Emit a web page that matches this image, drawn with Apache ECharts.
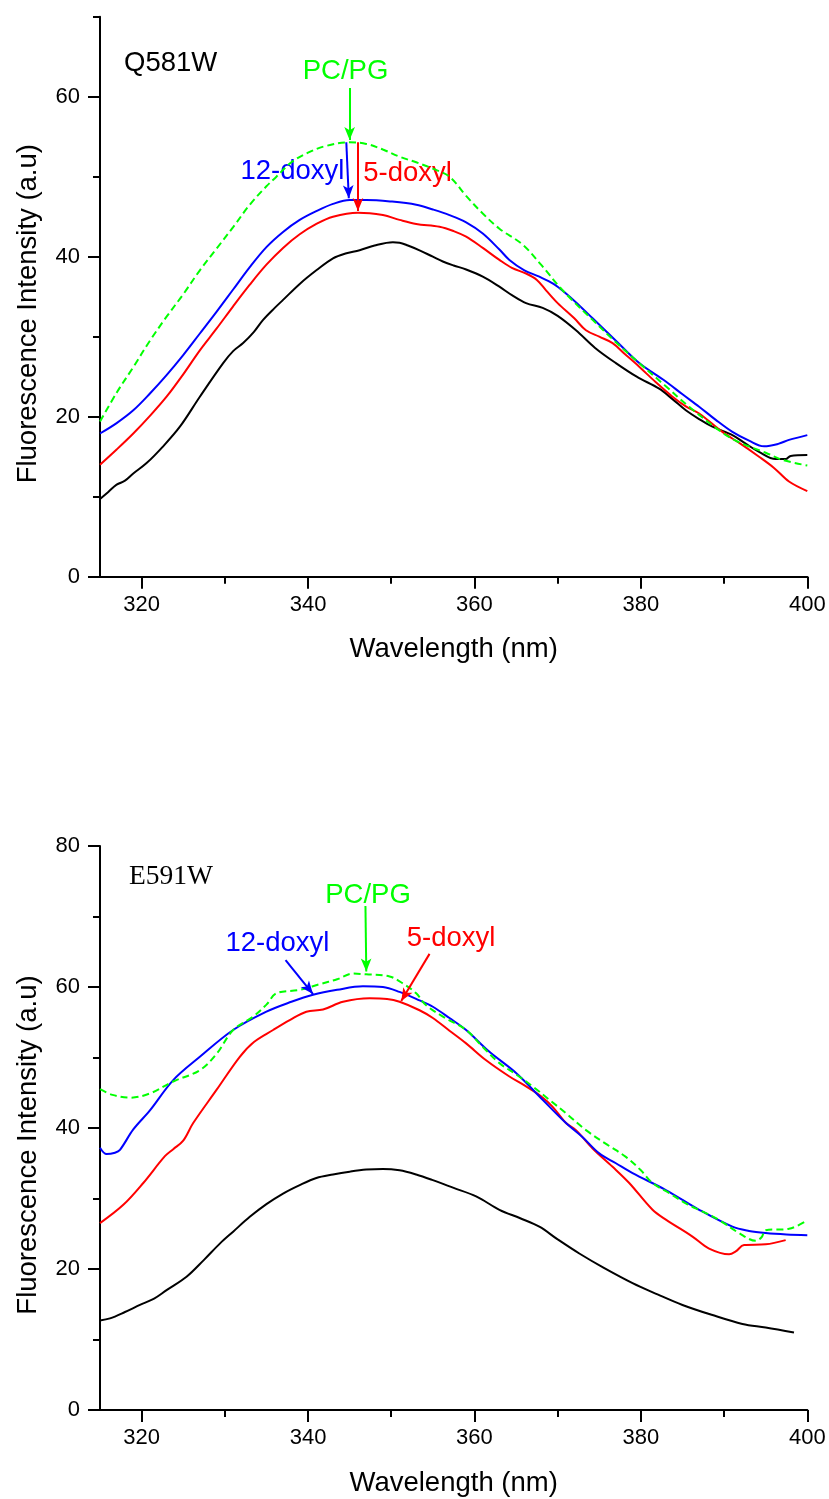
<!DOCTYPE html>
<html>
<head>
<meta charset="utf-8">
<script src="https://cdn.jsdelivr.net/npm/echarts@6/dist/echarts.min.js"></script>
<style>
html,body{margin:0;padding:0;background:#fff;}
#chart{width:829px;height:1499px;}
</style>
</head>
<body>
<div id="chart"></div>
<script>
// ---------- data (wavelength nm, intensity a.u.) ----------
const xMajorTicks = [320, 340, 360, 380, 400];
const xMinorTicks = [330, 350, 370, 390];
const yMajorTop = [0, 20, 40, 60];
const yMinorTop = [10, 30, 50, 70];
const yMajorBottom = [0, 20, 40, 60, 80];
const yMinorBottom = [10, 30, 50, 70];

// Panel 1: Q581W
const q581_pcpg = [[315,19.4],[317,23],[319,26.2],[321,29.5],[323,32.5],[325,35.3],[327,38.3],[329,41],[331,43.7],[333,46.5],[335,48.8],[336.2,50],[338,51.8],[340,53],[342,53.8],[345,54.3],[347,54.1],[349,53.4],[351,52.5],[353,51.8],[355,51],[357,50],[359,47.6],[361,45.4],[363,43.5],[365.8,41.5],[368,39],[370.2,36.25],[372,34.3],[374.2,32.1],[377,29.3],[379.8,26.7],[383,23.8],[385.8,21.25],[389.8,18],[392,16.7],[395,15.5],[397,14.6],[400,13.9]];
const q581_12doxyl = [[315,17.9],[317,19.2],[319,20.8],[321,22.9],[323,25.2],[325,27.7],[327,30.4],[329,33.1],[331,35.9],[333,38.7],[335,41.2],[337,43.1],[339,44.6],[341,45.7],[343,46.6],[345,47.1],[347,47.1],[350,46.9],[353,46.5],[355,45.9],[357,45.2],[359,44.3],[361,42.9],[363,40.9],[364.2,39.6],[366,38.3],[367.8,37.5],[369.5,36.6],[371,35.4],[372.5,34],[374.2,32.3],[377,29.5],[379.8,26.7],[383,24.4],[385,22.8],[387,21.25],[389,19.6],[391,18.1],[393,17],[394.8,16.3],[396.5,16.6],[397.8,17.1],[400,17.7]];
const q581_5doxyl = [[315,14],[317,15.9],[319,17.9],[321,20.1],[323,22.5],[325,25.3],[327,28.3],[329,31],[331,33.8],[333,36.5],[335,39],[337,41.1],[339,42.8],[341,44.1],[343,45],[346,45.5],[349,45.2],[351,44.6],[353,44.1],[355.8,43.75],[357.5,43.2],[359,42.5],[361,41.1],[363,39.6],[364.5,38.6],[366.2,37.9],[367.5,37.1],[368.6,35.8],[370,34.2],[372,32.3],[373.4,30.8],[375,30],[376.6,29.2],[378,27.9],[379.8,26.25],[381.8,24.3],[383.8,22.5],[385.4,21.3],[387,20.4],[389.8,18.1],[392,16.6],[394.2,15],[396,13.6],[397.8,11.9],[400,10.7]];
const q581_control = [[315,9.7],[316,10.6],[317,11.5],[318,12],[319,12.9],[320.6,14.2],[322.5,16.2],[324.6,18.75],[327,22.5],[329.8,26.7],[331,28.2],[332.2,29.2],[333.5,30.6],[334.6,32.1],[336,33.6],[337,34.6],[339,36.6],[341,38.3],[343,39.8],[344.5,40.4],[346.2,40.8],[348,41.4],[350.2,41.8],[351,41.75],[352,41.4],[353.4,40.8],[355,40],[356.2,39.4],[357.5,38.9],[359,38.4],[361,37.5],[363,36.25],[364.5,35.2],[366.2,34.2],[368.2,33.6],[370,32.6],[372.2,30.8],[374.5,28.6],[377,26.7],[379.5,25],[382.2,23.5],[383.8,22.2],[385.4,20.8],[387,19.7],[388.6,18.75],[391,17.7],[392.5,16.7],[394.2,15.6],[396.2,14.7],[397.4,14.7],[398,15.1],[400,15.2]];

// Panel 2: E591W
const e591_pcpg = [[315,45.5],[316.5,44.7],[318.6,44.3],[321,44.9],[323.8,46.6],[327,48.2],[329,50.5],[331,53.9],[333.4,55.8],[335,57.5],[336.2,59.1],[339,59.6],[341.4,60.4],[343.5,61.1],[345.4,61.9],[347,61.8],[349.8,61.5],[351.4,60.5],[353,59.1],[354.2,57.4],[356.5,55.6],[359,53.9],[361,51.5],[363,49.2],[365,47.6],[367,45.9],[369,44],[371,42.1],[373.4,39.7],[376,37.6],[378.2,35.9],[380,34],[381.4,32.2],[383.5,30.7],[385.4,29.3],[387.5,28.1],[389.4,26.95],[391.8,25.1],[393.8,24],[394.5,24.5],[395,25.5],[397.8,25.7],[400,26.9]];
const e591_12doxyl = [[315,37.2],[315.8,36.3],[316.8,36.5],[317.4,36.9],[319,39.8],[321,42.5],[323.8,46.8],[327,50.1],[331,53.9],[335,56.5],[338,57.9],[340.6,58.9],[343.5,59.6],[346.6,60.1],[349,60],[351,59.3],[353.4,58.1],[355,57.2],[357,55.6],[359,53.9],[361.8,50.8],[365,47.8],[368.2,44],[371,40.7],[373,38.7],[375,36.4],[377,35],[379,33.6],[383,31.2],[387,28.4],[391,26],[393,25.4],[395,25.1],[397.5,24.9],[400,24.8]];
const e591_5doxyl = [[315,26.5],[317.8,29.1],[320.2,32.2],[322.8,36],[323.8,37],[325,38.2],[326.2,40.7],[329,45.4],[331.8,50.1],[333.5,52.2],[335.8,53.9],[337.8,55.3],[339.8,56.5],[341.8,56.8],[344.2,57.9],[347.4,58.4],[349.5,58.3],[351,57.9],[353.4,56.7],[355,55.6],[357,53.8],[359,52],[361.4,49.6],[364.2,47.3],[366.2,45.9],[368,44.5],[369.4,43],[371,40.7],[372.2,39.7],[374.2,37.1],[376.6,34.5],[378.6,32.2],[381.4,28.4],[383,27],[386.2,24.6],[388.2,22.9],[390.6,22.1],[391.4,22.5],[392.4,23.4],[395,23.5],[397.4,24.1]];
const e591_control = [[315,12.7],[316.2,13],[318,13.9],[319.8,14.9],[321.5,15.8],[323,17],[325.4,18.9],[327.5,21.3],[329.4,23.6],[331,25.3],[333,27.4],[335,29.2],[337,30.7],[339,31.9],[341,32.9],[343,33.4],[345,33.8],[347,34.1],[349,34.2],[351,34],[353,33.4],[355,32.6],[357.5,31.5],[360.2,30.3],[363,28.4],[365.5,27.2],[367.8,26],[370,24.2],[372.6,22.2],[375.5,20.2],[379,18],[382,16.4],[385,14.9],[388.5,13.5],[392.2,12.2],[395,11.7],[398.4,11]];

// annotation arrows [from, to] in data units
const q581_arrows = {
  pcpg: [[345, 61.1], [345, 54.6]],
  d12:  [[344.6, 54.3], [344.9, 47.3]],
  d5:   [[346, 54.3], [346, 45.7]]
};
const e591_arrows = {
  pcpg: [[346.9, 71.5], [347, 62.2]],
  d12:  [[337.3, 63.8], [340.6, 59.0]],
  d5:   [[354.6, 64.7], [351.2, 58.0]]
};

// ---------- chart ----------
const SANS = '"Liberation Sans", Arial, sans-serif';
const SERIF = '"Liberation Serif", "Times New Roman", serif';
const BLUE = '#0000ff', RED = '#ff0000', GREEN = '#00ff00', BLACK = '#000000';

const grids = [
  {left: 100, top: 16.7, width: 707.3, height: 560},
  {left: 100, top: 846, width: 707.3, height: 564}
];

function mainX(g) {
  return {
    type: 'value', gridIndex: g, position: 'bottom', min: 315, max: 400,
    name: 'Wavelength (nm)', nameLocation: 'middle', nameGap: 59,
    nameTextStyle: {fontFamily: SANS, fontSize: 27.5, color: BLACK},
    axisLine: {show: true, onZero: false, lineStyle: {color: BLACK, width: 2}},
    axisTick: {show: true, inside: false, length: 12, lineStyle: {color: BLACK, width: 2}, customValues: xMajorTicks},
    axisLabel: {show: true, margin: 17, fontFamily: SANS, fontSize: 22, color: BLACK, customValues: xMajorTicks},
    splitLine: {show: false}
  };
}
function minorX(g) {
  return {
    type: 'value', gridIndex: g, position: 'bottom', min: 315, max: 400,
    axisLine: {show: false, onZero: false},
    axisTick: {show: true, inside: false, length: 7, lineStyle: {color: BLACK, width: 2}, customValues: xMinorTicks},
    axisLabel: {show: false},
    splitLine: {show: false}
  };
}
function mainY(g, max, major) {
  return {
    type: 'value', gridIndex: g, position: 'left', min: 0, max: max,
    name: 'Fluorescence Intensity (a.u)', nameLocation: 'middle', nameGap: 58, nameRotate: 90,
    nameTextStyle: {fontFamily: SANS, fontSize: 27.5, color: BLACK, padding: [0, 34, 0, 0]},
    axisLine: {show: true, onZero: false, lineStyle: {color: BLACK, width: 2}},
    axisTick: {show: true, inside: false, length: 12, lineStyle: {color: BLACK, width: 2}, customValues: major},
    axisLabel: {show: true, margin: 20, fontFamily: SANS, fontSize: 22, color: BLACK, customValues: major},
    splitLine: {show: false}
  };
}
function minorY(g, max, minor) {
  return {
    type: 'value', gridIndex: g, position: 'left', min: 0, max: max,
    axisLine: {show: false, onZero: false},
    axisTick: {show: true, inside: false, length: 7, lineStyle: {color: BLACK, width: 2}, customValues: minor},
    axisLabel: {show: false},
    splitLine: {show: false}
  };
}

function arrowLine(arr, color) {
  return [{coord: arr[0], symbol: 'none'}, {coord: arr[1], symbol: 'arrow', symbolSize: [8, 13]}];
}

function lineSeries(name, data, color, axisIdx, dashed, arrows) {
  const s = {
    name: name, type: 'line', data: data, xAxisIndex: axisIdx, yAxisIndex: axisIdx,
    showSymbol: false, symbol: 'none', smooth: 0.35, animation: false,
    lineStyle: {color: color, width: 2, type: dashed ? [7, 4] : 'solid'},
    itemStyle: {color: color}
  };
  if (arrows) {
    s.markLine = {
      silent: true, animation: false,
      symbol: ['none', 'arrow'], symbolSize: 12,
      label: {show: false},
      lineStyle: {color: color, width: 2, type: 'solid'},
      itemStyle: {color: color},
      emphasis: {disabled: true},
      data: [arrowLine(arrows, color)]
    };
  }
  return s;
}

function txt(text, x, y, color, align, font) {
  return {
    type: 'text', x: x, y: y, silent: true,
    style: {text: text, fill: color, font: font || ('27.5px ' + SANS),
            align: align, verticalAlign: 'middle', textAlign: align, textVerticalAlign: 'middle'}
  };
}

const option = {
  backgroundColor: '#ffffff',
  animation: false,
  grid: grids,
  xAxis: [mainX(0), minorX(0), mainX(1), minorX(1)],
  yAxis: [mainY(0, 70, yMajorTop), minorY(0, 70, yMinorTop), mainY(1, 80, yMajorBottom), minorY(1, 80, yMinorBottom)],
  series: [
    lineSeries('Q581W', q581_control, BLACK, 0, false, null),
    lineSeries('Q581W 5-doxyl', q581_5doxyl, RED, 0, false, q581_arrows.d5),
    lineSeries('Q581W 12-doxyl', q581_12doxyl, BLUE, 0, false, q581_arrows.d12),
    lineSeries('Q581W PC/PG', q581_pcpg, GREEN, 0, true, q581_arrows.pcpg),
    lineSeries('E591W', e591_control, BLACK, 2, false, null),
    lineSeries('E591W 5-doxyl', e591_5doxyl, RED, 2, false, e591_arrows.d5),
    lineSeries('E591W 12-doxyl', e591_12doxyl, BLUE, 2, false, e591_arrows.d12),
    lineSeries('E591W PC/PG', e591_pcpg, GREEN, 2, true, e591_arrows.pcpg)
  ],
  graphic: [
    txt('Q581W', 124, 63, BLACK, 'left'),
    txt('PC/PG', 345.5, 71, GREEN, 'center'),
    txt('12-doxyl', 292.5, 171, BLUE, 'center'),
    txt('5-doxyl', 407.5, 173, RED, 'center'),
    txt('E591W', 129, 877, BLACK, 'left', '27.5px ' + SERIF),
    txt('PC/PG', 368, 895, GREEN, 'center'),
    txt('12-doxyl', 277.5, 943, BLUE, 'center'),
    txt('5-doxyl', 451, 938, RED, 'center')
  ]
};

const chart = echarts.init(document.getElementById('chart'), null, {renderer: 'canvas'});
chart.setOption(option);
</script>
</body>
</html>
